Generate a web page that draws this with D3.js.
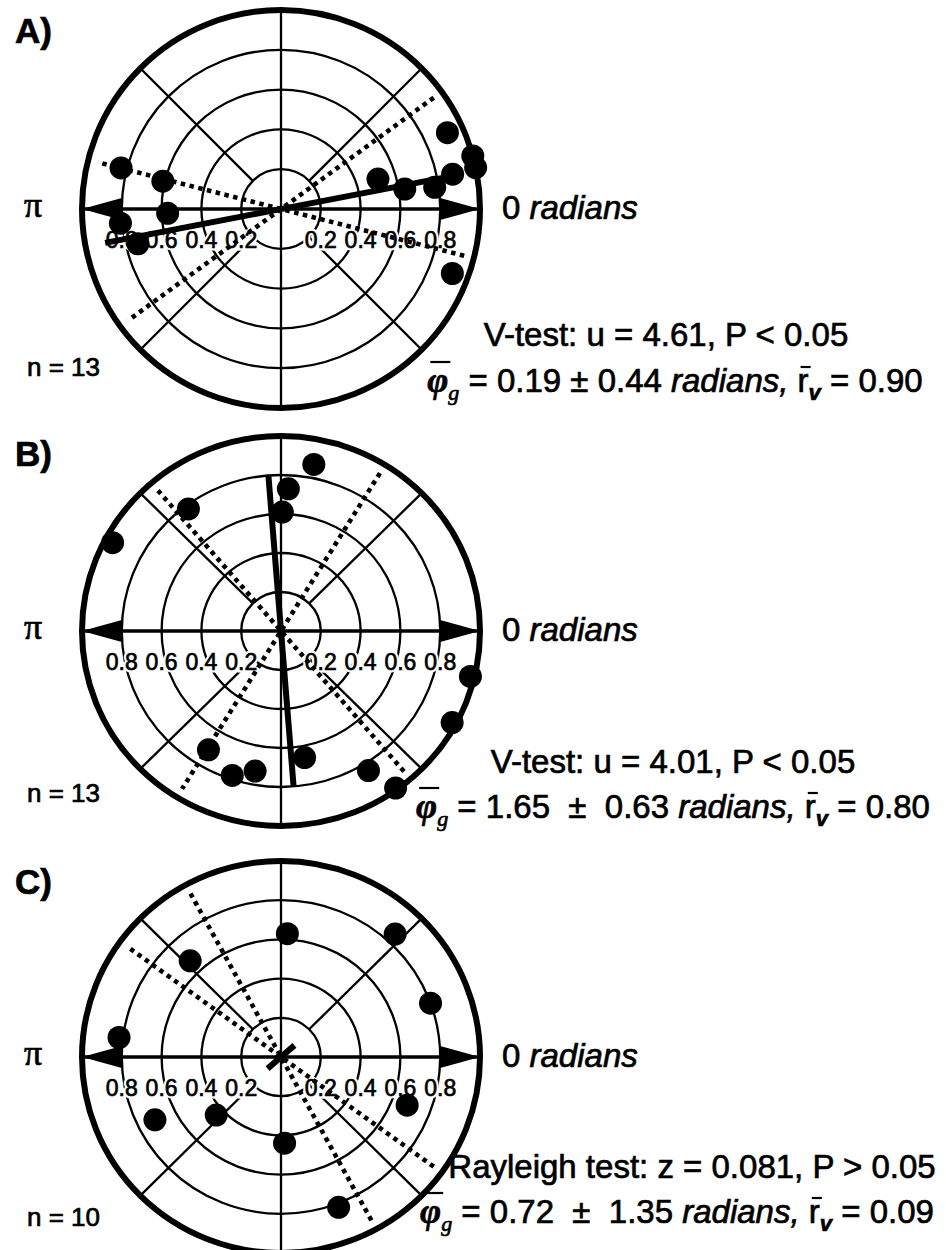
<!DOCTYPE html>
<html lang="en">
<head>
<meta charset="utf-8">
<title>Phase distributions</title>
<script src="https://d3js.org/d3.v7.min.js"></script>
<style>
  body { margin: 0; background: #fff; }
  svg text { font-family: "Liberation Sans", Arial, Helvetica, sans-serif; fill: #000; }
  svg text.ink { stroke: #000; stroke-width: 0.7px; }
</style>
</head>
<body>
<div id="chart"></div>
<script>
// phase angles (radians) and vector lengths
var anglesA = [0.43, 0.27, 0.21, 0.20, 0.14, 0.16, 0.30, -0.36, 2.89, 2.91, 3.18, 3.23, 3.38];
var radiiA  = [0.92, 1.00, 1.00, 0.88, 0.78, 0.63, 0.51, 0.92, 0.83, 0.61, 0.57, 0.81, 0.74];

var anglesB = [1.38, 1.52, 1.56, 2.21, 2.65, -0.24, -0.50, -0.95, -1.02, -1.39, -1.75, -1.89, -2.11];
var radiiB  = [0.87, 0.73, 0.61, 0.78, 0.96, 0.98, 0.98, 0.99, 0.84, 0.66, 0.73, 0.78, 0.71];

var anglesC = [1.52, 0.83, 0.35, 2.32, 3.02, 3.61, 3.88, -1.53, -1.21, -0.37];
var radiiC  = [0.63, 0.85, 0.80, 0.67, 0.82, 0.71, 0.44, 0.44, 0.82, 0.68];

// summary stats per panel
var panelNames  = ["A)", "B)", "C)"];
var sampleSizes = [13, 13, 10];
var meanAngles  = [0.19, 1.65, 0.72];
var angleErrors = [0.44, 0.63, 1.35];
var meanLengths = [0.90, 0.80, 0.09];
var testLines   = ["V-test: u = 4.61, P < 0.05",
                   "V-test: u = 4.01, P < 0.05",
                   "Rayleigh test: z = 0.081, P > 0.05"];
var pmSpacing   = [" \u00b1 ", "\u00a0 \u00b1\u00a0 ", "\u00a0 \u00b1\u00a0 "];

var ringTicks = [0.2, 0.4, 0.6, 0.8];
var spokeAngles = [Math.PI / 4, 3 * Math.PI / 4, 5 * Math.PI / 4, 7 * Math.PI / 4];

var allAngles = [anglesA, anglesB, anglesC];
var allRadii = [radiiA, radiiB, radiiC];

// where each panel sits on the page
var layout = [
  {cx: 281, cy: 209, rx: 199, ry: 199, titleY: 43, nY: 376, l1: [666, 346], l2: [675, 392]},
  {cx: 281, cy: 631, rx: 199, ry: 195, titleY: 466, nY: 802, l1: [673, 773], l2: [673, 818]},
  {cx: 281, cy: 1057, rx: 199, ry: 196, titleY: 894, nY: 1226, l1: [692, 1178], l2: [677, 1223]}
];

var width = 946, height = 1250;
var serif = "'Liberation Serif', 'Times New Roman', serif";

var svg = d3.select("#chart")
  .append("svg")
    .attr("width", width)
    .attr("height", height);

layout.forEach(function(L, i) {
  var g = svg.append("g");

  var rX = d3.scaleLinear().domain([0, 1]).range([0, L.rx]);
  var rY = d3.scaleLinear().domain([0, 1]).range([0, L.ry]);
  function px(a, r) { return L.cx + rX(r) * Math.cos(a); }
  function py(a, r) { return L.cy - rY(r) * Math.sin(a); }

  // rings
  g.selectAll("ellipse.ring")
    .data(ringTicks)
    .join("ellipse")
      .attr("class", "ring")
      .attr("cx", L.cx)
      .attr("cy", L.cy)
      .attr("rx", function(d) { return rX(d); })
      .attr("ry", function(d) { return rY(d); })
      .attr("fill", "none")
      .attr("stroke", "#000")
      .attr("stroke-width", 2.3);

  // diagonal spokes from the inner ring out
  g.selectAll("line.spoke")
    .data(spokeAngles)
    .join("line")
      .attr("x1", function(d) { return px(d, ringTicks[0]); })
      .attr("y1", function(d) { return py(d, ringTicks[0]); })
      .attr("x2", function(d) { return px(d, 1); })
      .attr("y2", function(d) { return py(d, 1); })
      .attr("stroke", "#000")
      .attr("stroke-width", 2.3);

  // vertical line
  g.append("line")
    .attr("x1", px(Math.PI / 2, 1)).attr("y1", py(Math.PI / 2, 1))
    .attr("x2", px(-Math.PI / 2, 1)).attr("y2", py(-Math.PI / 2, 1))
    .attr("stroke", "#000")
    .attr("stroke-width", 2.3);

  // outer circle
  g.append("ellipse")
    .attr("cx", L.cx).attr("cy", L.cy)
    .attr("rx", rX(1)).attr("ry", rY(1))
    .attr("fill", "none")
    .attr("stroke", "#000")
    .attr("stroke-width", 6);

  // radius labels under the horizontal axis, both sides
  var tickData = [];
  ringTicks.forEach(function(v) { tickData.push({v: v, a: Math.PI}); tickData.push({v: v, a: 0}); });
  // white knock-out first, then the ink on top
  g.selectAll("text.halo")
    .data(tickData)
    .join("text")
      .attr("class", "halo")
      .attr("x", function(d) { return px(d.a, d.v); })
      .attr("y", L.cy + 39)
      .attr("text-anchor", "middle")
      .attr("font-size", 23)
      .attr("stroke", "#fff")
      .attr("stroke-width", 5)
      .text(function(d) { return d.v.toFixed(1); });
  g.selectAll("text.tick")
    .data(tickData)
    .join("text")
      .attr("class", "tick ink")
      .attr("x", function(d) { return px(d.a, d.v); })
      .attr("y", L.cy + 39)
      .attr("text-anchor", "middle")
      .attr("font-size", 23)
      .text(function(d) { return d.v.toFixed(1); });

  // horizontal axis with arrow heads
  g.append("line")
    .attr("x1", px(Math.PI, 1)).attr("y1", L.cy)
    .attr("x2", px(0, 1)).attr("y2", L.cy)
    .attr("stroke", "#000")
    .attr("stroke-width", 3.5);

  g.selectAll("path.arrow")
    .data([0, Math.PI])
    .join("path")
      .attr("d", function(a) {
        var tip = px(a, 1), base = px(a, 0.8);
        return "M" + tip + "," + L.cy + "L" + base + "," + (L.cy - 11) + "L" + base + "," + (L.cy + 11) + "Z";
      })
      .attr("fill", "#000");

  // dotted lines for mean +/- error
  var lim = [meanAngles[i] - angleErrors[i], meanAngles[i] + angleErrors[i]];
  g.selectAll("line.ci")
    .data(lim)
    .join("line")
      .attr("x1", function(d) { return px(d, 0.95); })
      .attr("y1", function(d) { return py(d, 0.95); })
      .attr("x2", function(d) { return px(d + Math.PI, 0.95); })
      .attr("y2", function(d) { return py(d + Math.PI, 0.95); })
      .attr("stroke", "#000")
      .attr("stroke-width", 4.6)
      .attr("stroke-dasharray", "4.5,4.5");

  // mean vector
  var m = meanAngles[i], len = meanLengths[i];
  g.append("line")
    .attr("x1", px(m + Math.PI, len)).attr("y1", py(m + Math.PI, len))
    .attr("x2", px(m, len)).attr("y2", py(m, len))
    .attr("stroke", "#000")
    .attr("stroke-width", 6);

  // the data points
  g.selectAll("circle.pt")
    .data(d3.zip(allAngles[i], allRadii[i]))
    .join("circle")
      .attr("cx", function(d) { return px(d[0], d[1]); })
      .attr("cy", function(d) { return py(d[0], d[1]); })
      .attr("r", 11.5)
      .attr("fill", "#000");

  // texts
  g.append("text")
    .attr("class", "ink")
    .attr("x", 15).attr("y", L.titleY)
    .attr("font-size", 35)
    .attr("font-weight", "bold")
    .text(panelNames[i]);

  g.append("text")
    .attr("class", "ink")
    .attr("x", 24).attr("y", L.cy + 8)
    .attr("font-size", 36)
    .style("font-family", serif)
    .text("\u03c0");

  var zero = g.append("text")
    .attr("class", "ink")
    .attr("x", 502).attr("y", L.cy + 10)
    .attr("font-size", 33);
  zero.append("tspan").text("0 ");
  zero.append("tspan").attr("font-style", "italic").text("radians");

  g.append("text")
    .attr("class", "ink")
    .attr("x", 27).attr("y", L.nY)
    .attr("font-size", 26)
    .text("n = " + sampleSizes[i]);

  g.append("text")
    .attr("class", "ink")
    .attr("x", L.l1[0]).attr("y", L.l1[1])
    .attr("text-anchor", "middle")
    .attr("font-size", 33)
    .text(testLines[i]);

  var parts = [
    {t: "\u03c6", serif: true, size: 36, italic: true, bold: true, bar: 30},
    {t: "g", serif: true, size: 22, italic: true, dy: 8},
    {t: " = " + meanAngles[i].toFixed(2) + pmSpacing[i] + angleErrors[i].toFixed(2) + " ", dy: -8},
    {t: "radians,", italic: true},
    {t: " r", barAt: 1, bar: 25},
    {t: "v", size: 22, italic: true, bold: true, dy: 8},
    {t: " = " + meanLengths[i].toFixed(2), dy: -8}
  ];
  var stat = g.append("text")
    .attr("class", "ink")
    .attr("x", L.l2[0]).attr("y", L.l2[1])
    .attr("text-anchor", "middle")
    .attr("font-size", 33);
  var idx = 0, bars = [];
  parts.forEach(function(p) {
    var s = stat.append("tspan").text(p.t);
    if (p.serif) s.style("font-family", serif);
    if (p.size) s.attr("font-size", p.size);
    if (p.italic) s.attr("font-style", "italic");
    if (p.bold) s.attr("font-weight", "bold");
    if (p.dy) s.attr("dy", p.dy);
    if (p.bar) bars.push({k: idx + (p.barAt || 0), h: p.bar});
    idx += p.t.length;
  });
  bars.forEach(function(b) {
    var node = stat.node();
    var s = node.getStartPositionOfChar(b.k), e = node.getEndPositionOfChar(b.k);
    g.append("line")
      .attr("x1", s.x + 3).attr("x2", e.x + 2)
      .attr("y1", L.l2[1] - b.h).attr("y2", L.l2[1] - b.h)
      .attr("stroke", "#000")
      .attr("stroke-width", 2.2);
  });
});
</script>
</body>
</html>
